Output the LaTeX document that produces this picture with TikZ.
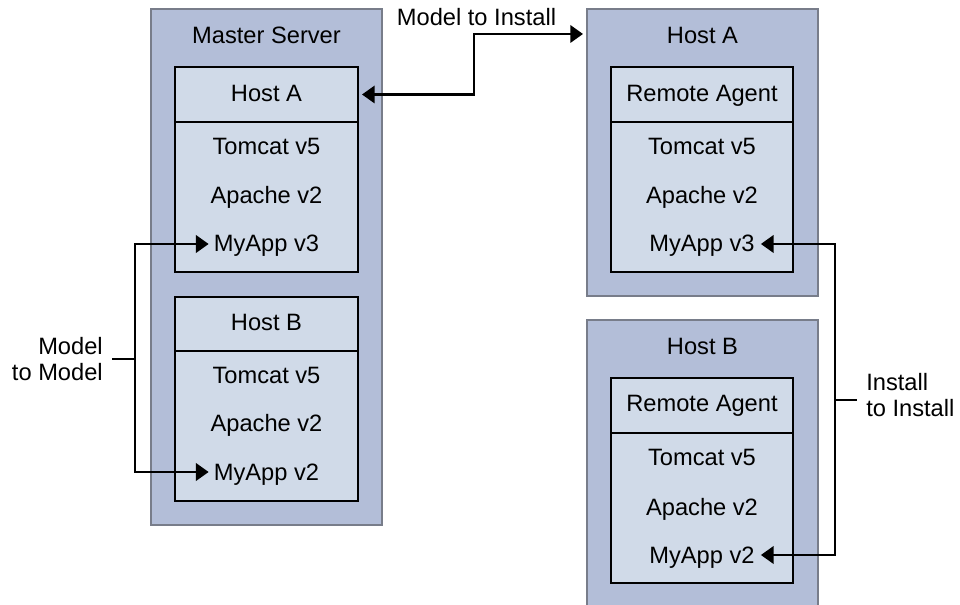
\documentclass[tikz,border=0pt]{standalone}
\usepackage{fontspec}
\setmainfont{Liberation Sans}
\usetikzlibrary{arrows.meta}
\definecolor{outerfill}{RGB}{179,190,216}
\definecolor{innerfill}{RGB}{208,218,232}
\definecolor{outerline}{RGB}{120,125,138}
\begin{document}
\begin{tikzpicture}[x=0.75pt,y=-0.75pt,
  outerbox/.style={rectangle,fill=outerfill,draw=outerline,line width=0.8pt,inner sep=0pt,outer sep=0pt},
  innerbox/.style={rectangle,fill=innerfill,draw=black,line width=1.9pt,inner sep=0pt,outer sep=0pt},
  lbl/.style={font=\fontsize{17.75}{18.75}\selectfont,inner sep=0pt,anchor=base},
  sidelbl/.style={font=\fontsize{17.75}{19}\selectfont,inner sep=0pt},
  conn/.style={line width=1.9pt,draw=black},
  both/.style={{Triangle[length=9.5pt,width=13pt]}-{Triangle[length=9.5pt,width=13pt]}},
  innerw/.style={minimum width=137.25pt},
  innerwr/.style={minimum width=136.5pt}
]
\useasboundingbox (0,0) rectangle (960,605);

% ---------- Master Server ----------
\node[outerbox,minimum width=173.25pt,minimum height=387pt] (ms) at (266.5,267) {};
\node[lbl] (msT) at (266.5,44) {Master Server};

\node[innerbox,innerw,minimum height=153.75pt] (mA) at (266.5,169.5) {};
\node[innerbox,innerw,minimum height=41.25pt] (mAh) at (266.5,94.5) {};
\node[lbl] (mAt) at (266.5,102) {Host A};
\node[lbl] (mA1) at (266.5,155) {Tomcat v5};
\node[lbl] (mA2) at (266.5,203.5) {Apache v2};
\node[lbl] (mA3) at (266.5,252) {MyApp v3};

\node[innerbox,innerw,minimum height=153pt] (mB) at (266.5,399) {};
\node[innerbox,innerw,minimum height=40.5pt] (mBh) at (266.5,324) {};
\node[lbl] (mBt) at (266.5,330.5) {Host B};
\node[lbl] (mB1) at (266.5,384) {Tomcat v5};
\node[lbl] (mB2) at (266.5,432) {Apache v2};
\node[lbl] (mB3) at (266.5,480) {MyApp v2};

% ---------- Remote Host A ----------
\node[outerbox,minimum width=173.25pt,minimum height=215.25pt] (rAo) at (702.5,152.5) {};
\node[lbl] (rAT) at (702.5,44) {Host A};
\node[innerbox,innerwr,minimum height=153.75pt] (rA) at (702,169.5) {};
\node[innerbox,innerwr,minimum height=41.25pt] (rAh) at (702,94.5) {};
\node[lbl] (rAt) at (702,102) {Remote Agent};
\node[lbl] (rA1) at (702,155) {Tomcat v5};
\node[lbl] (rA2) at (702,203.5) {Apache v2};
\node[lbl] (rA3) at (702,252) {MyApp v3};

% ---------- Remote Host B (cut at page bottom) ----------
\fill[outerfill] (587,320) rectangle (818,605);
\draw[outerline,line width=0.8pt] (587,606) -- (587,320) -- (818,320) -- (818,606);
\node[lbl] (rBT) at (702.5,355) {Host B};
\node[innerbox,innerwr,minimum height=153.75pt] (rB) at (702,480.5) {};
\node[innerbox,innerwr,minimum height=41.25pt] (rBh) at (702,405.5) {};
\node[lbl] (rBt) at (702,412) {Remote Agent};
\node[lbl] (rB1) at (702,466) {Tomcat v5};
\node[lbl] (rB2) at (702,515) {Apache v2};
\node[lbl] (rB3) at (702,563) {MyApp v2};

% ---------- Model to Install ----------
\coordinate (j1) at (474,64);
\draw[conn,both] ([xshift=3pt]mAh.east) -| (j1) |- ([shift={(-4,25)}]rAo.north west);
\node[lbl] (miL) at (476.5,26) {Model to Install};

% ---------- Model to Model ----------
\coordinate (j2) at (135,359);
\coordinate (t2) at (112,359);
\draw[conn,both] ([shift={(-5,-8)}]mA3.base west) -| (j2) |- ([shift={(-5,-8)}]mB3.base west);
\draw[conn] (j2) -- (t2);
\node[sidelbl,anchor=east,align=right] (mmL) at (103,359) {Model\\to Model};

% ---------- Install to Install ----------
\coordinate (j3) at (835,400);
\coordinate (t3) at (857,400);
\draw[conn,both] ([shift={(6,-8)}]rA3.base east) -| (j3) |- ([shift={(6,-8)}]rB3.base east);
\draw[conn] (j3) -- (t3);
\node[sidelbl,anchor=west,align=left] (iiL) at (866,395) {Install\\to Install};
\end{tikzpicture}
\end{document}
